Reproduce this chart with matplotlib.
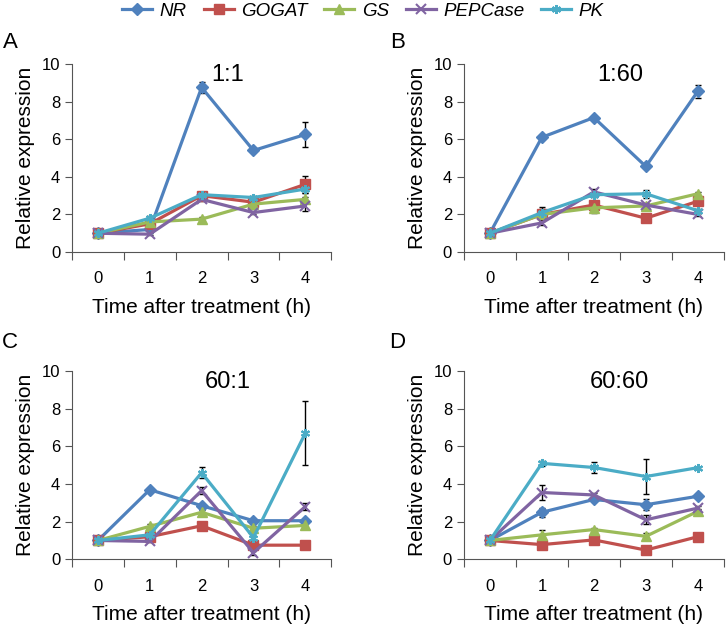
import numpy as np
import matplotlib
matplotlib.use("Agg")
import matplotlib.pyplot as plt
from matplotlib.lines import Line2D

plt.rcParams['font.family'] = ['Liberation Sans', 'DejaVu Sans']

hours = [0, 1, 2, 3, 4]
genes = ["NR", "GOGAT", "GS", "PEPCase", "PK"]
colors = ["#4F81BD", "#C0504D", "#9BBB59", "#8064A2", "#4BACC6"]
markers = ["D", "s", "^", "x", (6, 2, 0)]
panels = ["A", "B", "C", "D"]
titles = ["1:1", "1:60", "60:1", "60:60"]

# mean expression, one list per gene, per panel
means_a = [[1, 1.2, 8.75, 5.4, 6.25],
           [1, 1.5, 3.0, 2.65, 3.6],
           [1, 1.6, 1.75, 2.55, 2.8],
           [1, 0.95, 2.8, 2.1, 2.45],
           [1, 1.8, 3.05, 2.9, 3.35]]
means_b = [[1, 6.1, 7.15, 4.55, 8.55],
           [1, 2.0, 2.5, 1.8, 2.7],
           [1, 2.0, 2.35, 2.45, 3.1],
           [1, 1.55, 3.2, 2.5, 2.0],
           [1, 2.1, 3.05, 3.1, 2.2]]
means_c = [[1, 3.7, 2.85, 2.05, 2.05],
           [1, 1.2, 1.78, 0.75, 0.75],
           [1, 1.75, 2.5, 1.65, 1.8],
           [1, 0.95, 3.65, 0.35, 2.8],
           [1, 1.3, 4.6, 1.15, 6.7]]
means_d = [[1, 2.5, 3.18, 2.9, 3.35],
           [1, 0.78, 1.03, 0.49, 1.2],
           [1, 1.3, 1.58, 1.22, 2.55],
           [1, 3.55, 3.42, 2.1, 2.72],
           [1, 5.1, 4.88, 4.4, 4.87]]

errs_a = [[0.05, 0.1, 0.3, 0.1, 0.65],
          [0.05, 0.1, 0.1, 0.1, 0.45],
          [0.05, 0.1, 0.1, 0.1, 0.15],
          [0.05, 0.05, 0.1, 0.1, 0.25],
          [0.05, 0.1, 0.1, 0.1, 0.2]]
errs_b = [[0.05, 0.1, 0.1, 0.1, 0.35],
          [0.05, 0.1, 0.1, 0.1, 0.2],
          [0.05, 0.3, 0.3, 0.1, 0.1],
          [0.05, 0.1, 0.15, 0.1, 0.1],
          [0.05, 0.3, 0.1, 0.2, 0.1]]
errs_c = [[0.05, 0.1, 0.1, 0.1, 0.1],
          [0.05, 0.1, 0.1, 0.1, 0.1],
          [0.05, 0.1, 0.1, 0.1, 0.1],
          [0.05, 0.05, 0.2, 0.1, 0.2],
          [0.05, 0.1, 0.3, 0.1, 1.7]]
errs_d = [[0.05, 0.25, 0.1, 0.3, 0.1],
          [0.05, 0.1, 0.1, 0.1, 0.1],
          [0.05, 0.25, 0.1, 0.2, 0.1],
          [0.05, 0.4, 0.1, 0.25, 0.1],
          [0.05, 0.15, 0.3, 0.95, 0.05]]

all_means = [means_a, means_b, means_c, means_d]
all_errs = [errs_a, errs_b, errs_c, errs_d]

fig = plt.figure(figsize=(7.26, 6.27), dpi=100)
boxes = [[0.0992, 0.598, 0.357, 0.300],
         [0.639, 0.598, 0.358, 0.300],
         [0.0992, 0.108, 0.357, 0.300],
         [0.639, 0.108, 0.358, 0.300]]
letter_pos = [(0.004, 0.932), (0.538, 0.932), (0.002, 0.453), (0.536, 0.453)]

for k in range(4):
    ax = fig.add_axes(boxes[k])
    for g in range(5):
        ax.errorbar(hours, all_means[k][g], yerr=all_errs[k][g], fmt='none',
                    ecolor='black', elinewidth=1, capsize=2.5, capthick=1, zorder=2)
    for g in range(5):
        ms = 7.5 if g == 3 else 6.5
        ax.plot(hours, all_means[k][g], color=colors[g], marker=markers[g],
                markersize=ms, lw=2.3, mew=1.5 if g >= 3 else 1, zorder=3)
    ax.set_xlim(-0.5, 4.5)
    ax.set_ylim(0, 10)
    ax.set_yticks([0, 2, 4, 6, 8, 10])
    ax.set_xticks(np.arange(-0.5, 5, 1))
    ax.set_xticklabels([])
    ax.set_xticks(hours, minor=True)
    ax.set_xticklabels([str(h) for h in hours], minor=True)
    ax.tick_params(axis='x', which='major', direction='out', length=6, color='#555555')
    ax.tick_params(axis='x', which='minor', length=0, pad=14, labelsize=12)
    ax.tick_params(axis='y', direction='out', length=5, color='#555555', labelsize=12)
    for s in ['top', 'right']:
        ax.spines[s].set_visible(False)
    for s in ['left', 'bottom']:
        ax.spines[s].set_color('#555555')
    ax.set_ylabel("Relative expression", fontsize=15, labelpad=5)
    ax.set_xlabel("Time after treatment (h)", fontsize=15, labelpad=8)
    ax.text(0.60, 0.94, titles[k], transform=ax.transAxes, fontsize=17,
            ha='center', va='center')
    fig.text(letter_pos[k][0], letter_pos[k][1], panels[k], fontsize=16,
             ha='left', va='center')

handles = [Line2D([0], [0], color=colors[g], marker=markers[g], lw=2.3,
                  markersize=6.5, mew=1.5 if g >= 3 else 1) for g in range(5)]
fig.legend(handles, genes, loc='center', bbox_to_anchor=(0.5, 0.982), ncol=5,
           frameon=False, prop={'style': 'italic', 'size': 13.5},
           handlelength=1.6, columnspacing=0.9, handletextpad=0.4)

fig.savefig("out.png", dpi=100)
